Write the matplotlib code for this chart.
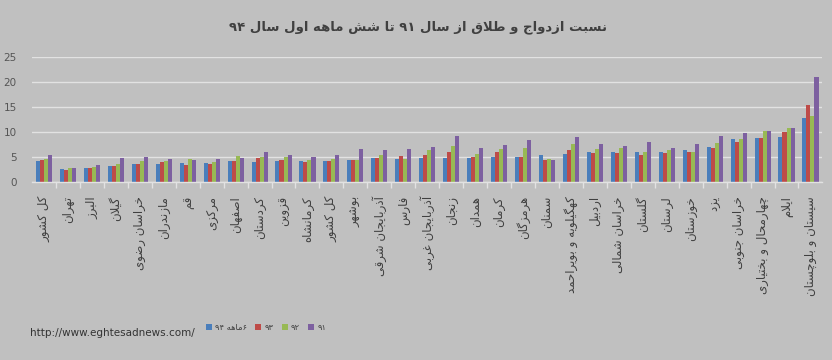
import numpy as np
import matplotlib.pyplot as plt

# --- data ---
provinces = ['کل کشور', 'تهران', 'البرز', 'گیلان', 'خراسان رضوی', 'مازندران', 'قم',
             'مرکزی', 'اصفهان', 'کردستان', 'قزوین', 'کرمانشاه', 'کل کشور', 'بوشهر',
             'آذربایجان شرقی', 'فارس', 'آذربایجان غربی', 'زنجان', 'همدان', 'کرمان',
             'هرمزگان', 'سمنان', 'کهگیلویه و بویراحمد', 'اردبیل', 'خراسان شمالی',
             'گلستان', 'لرستان', 'خوزستان', 'یزد', 'خراسان جنوبی',
             'چهارمحال و بختیاری', 'ایلام', 'سیستان و بلوچستان']
y94 = [4.3, 2.7, 2.9, 3.3, 3.7, 3.7, 3.9, 3.9, 4.2, 4.1, 4.3, 4.3, 4.3, 4.5, 4.9, 4.7, 4.8,
       4.9, 4.9, 5.1, 5.1, 5.5, 5.6, 6.1, 6.1, 6.1, 6.1, 6.4, 7.0, 8.6, 8.8, 9.1, 12.9]
y93 = [4.5, 2.4, 2.9, 3.3, 3.7, 4.0, 3.5, 3.7, 4.3, 4.9, 4.5, 4.1, 4.3, 4.5, 4.9, 5.3, 5.5,
       6.1, 5.1, 6.1, 5.1, 4.5, 6.5, 5.9, 5.9, 5.4, 5.9, 6.1, 6.8, 8.0, 8.8, 10.0, 15.4]
y92 = [4.7, 2.9, 3.0, 3.7, 4.3, 4.2, 4.7, 4.1, 5.3, 5.1, 5.1, 4.5, 4.7, 4.5, 5.5, 4.7, 6.4,
       7.2, 5.7, 6.6, 6.9, 4.6, 7.6, 6.6, 6.9, 6.1, 6.4, 6.1, 7.9, 8.6, 10.3, 10.9, 13.2]
y91 = [5.5, 2.9, 3.5, 4.9, 5.1, 4.7, 4.5, 4.7, 4.9, 6.1, 5.5, 5.1, 5.5, 6.6, 6.4, 6.6, 7.1,
       9.2, 6.8, 7.5, 8.4, 4.5, 9.0, 7.7, 7.2, 8.0, 6.9, 7.6, 9.3, 9.9, 10.2, 10.9, 20.9]
series_names = ['۶ماهه ۹۴', '۹۳', '۹۲', '۹۱']
colors = ['#4a7ebb', '#be4b48', '#98b954', '#7d60a0']
title = 'نسبت ازدواج و طلاق از سال ۹۱ تا شش ماهه اول سال ۹۴'

# --- tiny persian shaper (no arabic_reshaper available) ---
FORMS = {
    'ا': ('\uFE8D', '\uFE8E', None, None), 'آ': ('\uFE81', '\uFE82', None, None),
    'ب': ('\uFE8F', '\uFE90', '\uFE91', '\uFE92'), 'پ': ('\uFB56', '\uFB57', '\uFB58', '\uFB59'),
    'ت': ('\uFE95', '\uFE96', '\uFE97', '\uFE98'), 'ث': ('\uFE99', '\uFE9A', '\uFE9B', '\uFE9C'),
    'ج': ('\uFE9D', '\uFE9E', '\uFE9F', '\uFEA0'), 'چ': ('\uFB7A', '\uFB7B', '\uFB7C', '\uFB7D'),
    'ح': ('\uFEA1', '\uFEA2', '\uFEA3', '\uFEA4'), 'خ': ('\uFEA5', '\uFEA6', '\uFEA7', '\uFEA8'),
    'د': ('\uFEA9', '\uFEAA', None, None), 'ذ': ('\uFEAB', '\uFEAC', None, None),
    'ر': ('\uFEAD', '\uFEAE', None, None), 'ز': ('\uFEAF', '\uFEB0', None, None),
    'ژ': ('\uFB8A', '\uFB8B', None, None),
    'س': ('\uFEB1', '\uFEB2', '\uFEB3', '\uFEB4'), 'ش': ('\uFEB5', '\uFEB6', '\uFEB7', '\uFEB8'),
    'ص': ('\uFEB9', '\uFEBA', '\uFEBB', '\uFEBC'), 'ض': ('\uFEBD', '\uFEBE', '\uFEBF', '\uFEC0'),
    'ط': ('\uFEC1', '\uFEC2', '\uFEC3', '\uFEC4'), 'ظ': ('\uFEC5', '\uFEC6', '\uFEC7', '\uFEC8'),
    'ع': ('\uFEC9', '\uFECA', '\uFECB', '\uFECC'), 'غ': ('\uFECD', '\uFECE', '\uFECF', '\uFED0'),
    'ف': ('\uFED1', '\uFED2', '\uFED3', '\uFED4'), 'ق': ('\uFED5', '\uFED6', '\uFED7', '\uFED8'),
    'ک': ('\uFB8E', '\uFB8F', '\uFB90', '\uFB91'), 'گ': ('\uFB92', '\uFB93', '\uFB94', '\uFB95'),
    'ل': ('\uFEDD', '\uFEDE', '\uFEDF', '\uFEE0'), 'م': ('\uFEE1', '\uFEE2', '\uFEE3', '\uFEE4'),
    'ن': ('\uFEE5', '\uFEE6', '\uFEE7', '\uFEE8'), 'و': ('\uFEED', '\uFEEE', None, None),
    'ه': ('\uFEE9', '\uFEEA', '\uFEEB', '\uFEEC'), 'ی': ('\uFBFC', '\uFBFD', '\uFBFE', '\uFBFF'),
    'لا': ('\uFEFB', '\uFEFC', None, None),
}


def fa(text):
    # split into letters, merging lam+alef
    chars = []
    i = 0
    while i < len(text):
        if text[i] == 'ل' and i + 1 < len(text) and text[i + 1] == 'ا':
            chars.append('لا')
            i += 2
        else:
            chars.append(text[i])
            i += 1
    out = []
    for k, c in enumerate(chars):
        if c not in FORMS:
            out.append(c)
            continue
        prev = chars[k - 1] if k > 0 else None
        nxt = chars[k + 1] if k + 1 < len(chars) else None
        join_prev = prev in FORMS and FORMS[prev][2] is not None
        join_next = nxt in FORMS and FORMS[c][2] is not None
        iso, fin, ini, med = FORMS[c]
        if join_prev and join_next:
            out.append(med)
        elif join_prev:
            out.append(fin)
        elif join_next:
            out.append(ini)
        else:
            out.append(iso)
    # visual order: reverse, keeping digit runs left-to-right
    runs, cur, cur_d = [], '', None
    for c in out:
        d = '\u06F0' <= c <= '\u06F9'
        if cur and d != cur_d:
            runs.append((cur, cur_d))
            cur = ''
        cur += c
        cur_d = d
    if cur:
        runs.append((cur, cur_d))
    return ''.join(r if d else r[::-1] for r, d in reversed(runs))


bg = '#c0c0c0'
fig = plt.figure(figsize=(8.32, 3.6), dpi=100, facecolor=bg)
ax = fig.add_axes([0.0385, 0.494, 0.95, 0.348], facecolor=bg)

x = np.arange(len(provinces))
w = 0.168
handles = []
for j, (vals, col) in enumerate(zip([y94, y93, y92, y91], colors)):
    h = ax.bar(x + (j - 1.5) * w, vals, width=w, color=col, zorder=3)
    handles.append(h)

ax.set_xlim(-0.5, len(provinces) - 0.5)
ax.set_ylim(0, 25)
ax.set_yticks([0, 5, 10, 15, 20, 25])
ax.grid(axis='y', color='#e2e2e2', lw=1.0, zorder=0)
for s in ['top', 'right', 'left']:
    ax.spines[s].set_visible(False)
ax.spines['bottom'].set_color('#e2e2e2')
ax.spines['bottom'].set_linewidth(1.0)
ax.spines['bottom'].set_zorder(4)

ax.set_xticks(x)
ax.set_xticklabels([fa(p) for p in provinces], rotation=90, fontsize=8.5, color='#404040')
ax.set_xticks(x[:-1] + 0.5, minor=True)
ax.tick_params(axis='x', which='major', length=0, pad=10)
ax.tick_params(axis='x', which='minor', length=4, color='#e2e2e2', width=1)
ax.tick_params(axis='y', length=0, labelsize=7.5, labelcolor='#555555', pad=11)

fig.text(0.503, 0.925, fa(title), ha='center', va='center', fontsize=9.5,
         fontweight='bold', color='#404040')
fig.text(0.036, 0.075, 'http://www.eghtesadnews.com/', ha='left', va='center',
         fontsize=7.5, color='#333333')
fig.legend(handles, [fa(n) for n in series_names], loc='center', bbox_to_anchor=(0.32, 0.09),
           ncol=4, frameon=False, fontsize=6, handlelength=0.7, handleheight=0.7,
           columnspacing=1.0, handletextpad=0.4, labelcolor='#404040')

fig.savefig('out.png', dpi=100, facecolor=bg)
